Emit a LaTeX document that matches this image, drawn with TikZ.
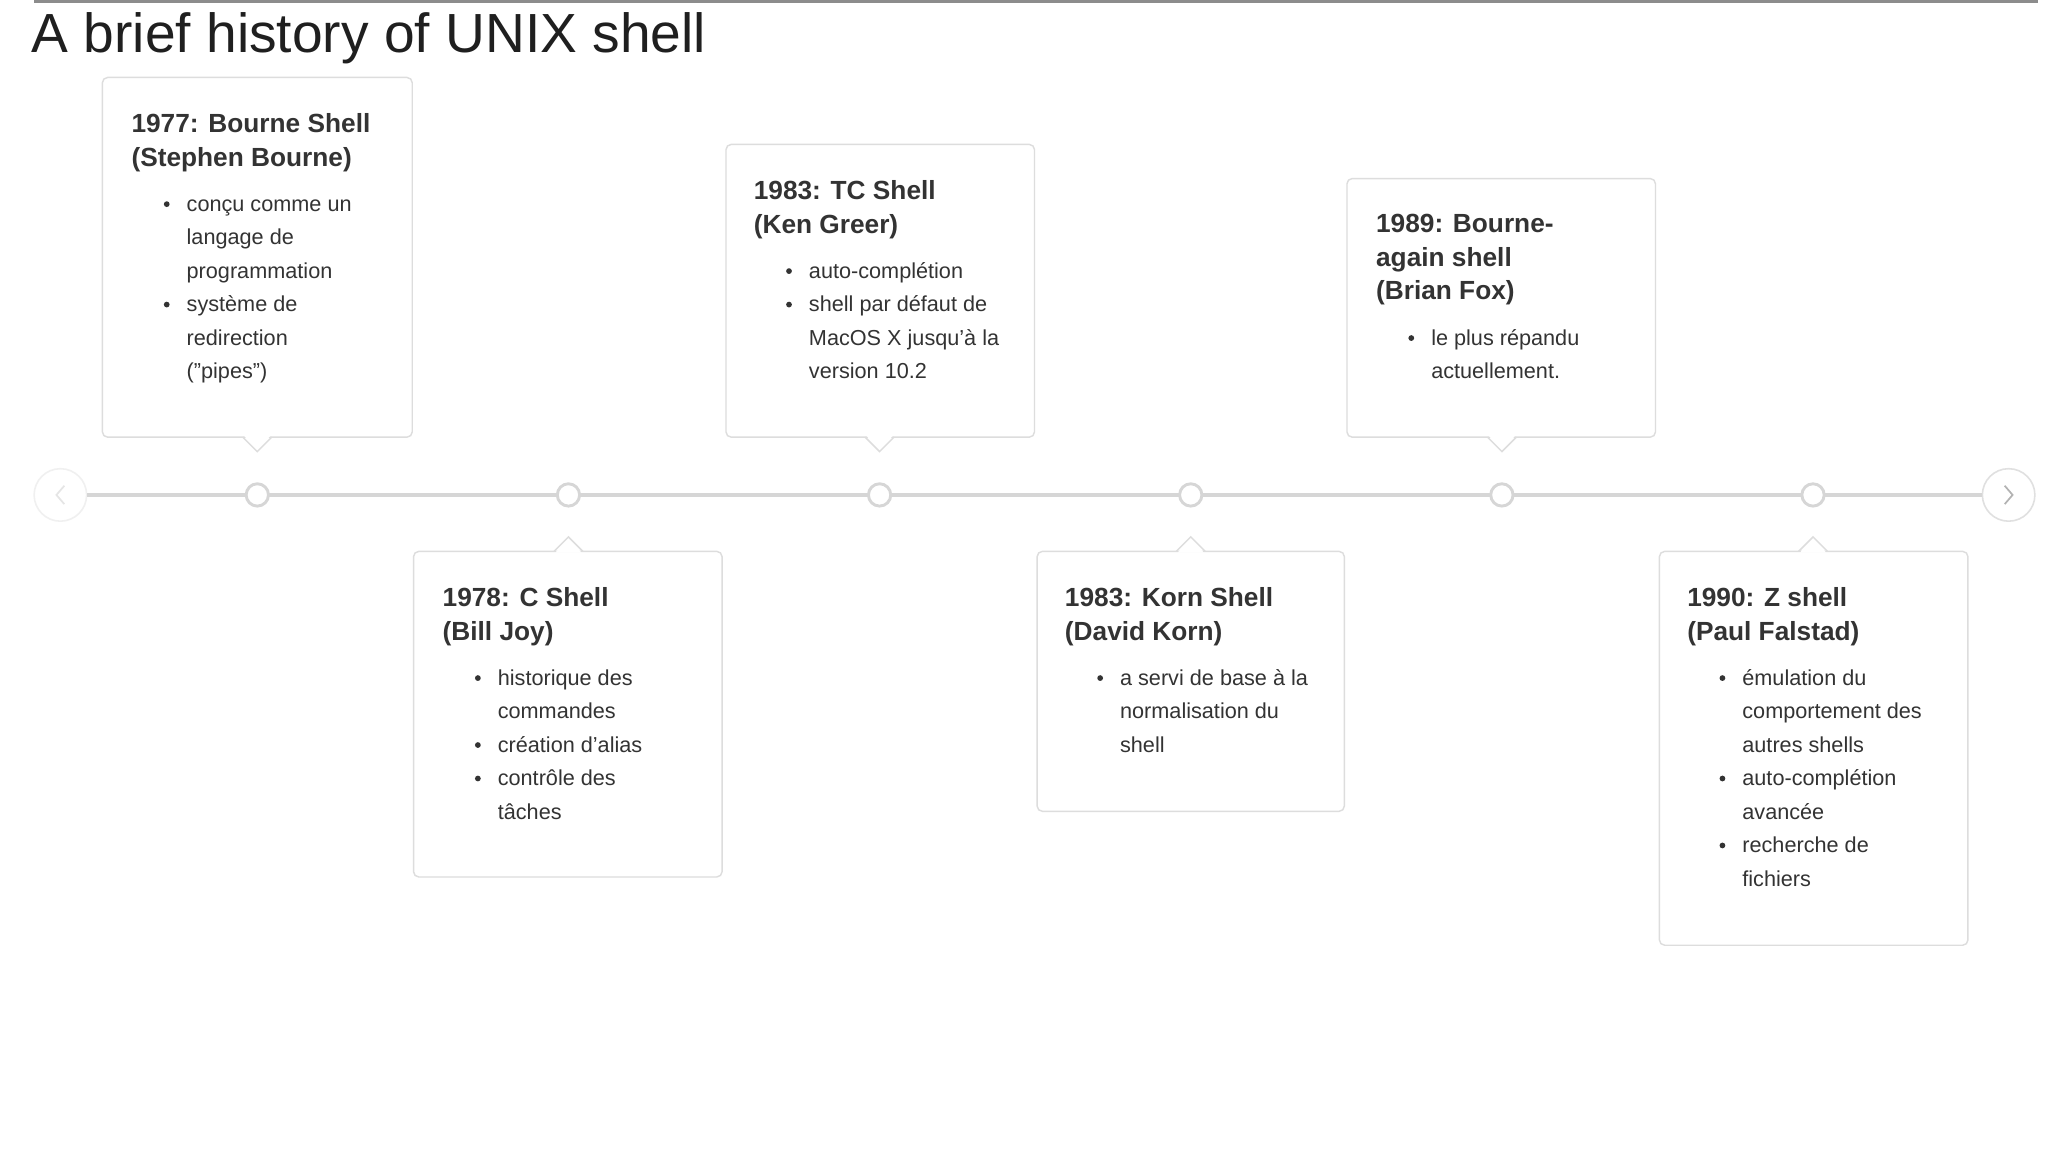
\documentclass[tikz,border=0pt]{standalone}
\usepackage{fontspec}
\setmainfont{Liberation Sans}
\definecolor{bd}{HTML}{DDDDDD}
\definecolor{lnc}{HTML}{D6D6D6}
\definecolor{tx}{HTML}{333333}
\newcommand\hd[3]{\node[anchor=base west,font=\fontsize{20}{24}\selectfont\bfseries,text=tx,inner sep=0] at (#1,#2) {#3};}
\newcommand\tl[3]{\node[anchor=base west,font=\fontsize{16.5}{20}\selectfont,text=tx,inner sep=0] at (#1,#2) {#3};}
\newcommand\bu[2]{\fill[tx] (#1,#2-5.5) circle (2.2);}
\begin{document}
\begin{tikzpicture}[x=1pt,y=-1pt,
  box/.style={draw=bd,line width=1.1pt,fill=white,rounded corners=4},
  dot/.style={circle,draw=lnc,line width=2.2pt,fill=white,minimum size=17,inner sep=0}]
\useasboundingbox (0,0) rectangle (1560,877.5);
\fill[white] (0,0) rectangle (1560,877.5);
\fill[black!45] (26,0) rectangle (1552,2.5);
\node[anchor=base west,font=\fontsize{42}{48}\selectfont,text=black!88,inner sep=0] (title) at (24,40) {A brief history of UNIX shell};
% timeline
\node[circle,draw=black!6,line width=1.2pt,minimum size=40,inner sep=0] (prev) at (46,377) {};
\node[circle,draw=black!12,line width=1.2pt,minimum size=40,inner sep=0] (next) at (1530,377) {};
\draw[black!10,line width=1.3pt] (49,370) -- (43,377) -- (49,384);
\draw[black!30,line width=1.3pt] (1527,370) -- (1533,377) -- (1527,384);
\draw[lnc,line width=3pt] (prev) -- (next);
\foreach \x/\n in {196/d1,433/d2,670/d3,907/d4,1144/d5,1381/d6} \node[dot] (\n) at (\x,377) {};
% top boxes
\draw[box] (78,59) rectangle (314,333);
\draw[box] (553,110) rectangle (788,333);
\draw[box] (1026,136) rectangle (1261,333);
\foreach \c in {196,670,1144}{
 \fill[white] (\c-10,332) -- (\c,343) -- (\c+10,332) -- cycle;
 \draw[bd,line width=1.1pt] (\c-11,333) -- (\c,344) -- (\c+11,333);}
% bottom boxes
\draw[box] (315,420) rectangle (550,668);
\draw[box] (790,420) rectangle (1024,618);
\draw[box] (1264,420) rectangle (1499,720);
\foreach \c in {433,907,1381}{
 \fill[white] (\c-10,421) -- (\c,410) -- (\c+10,421) -- cycle;
 \draw[bd,line width=1.1pt] (\c-11,420) -- (\c,409) -- (\c+11,420);}
% box 1
\hd{100}{101}{1977: Bourne Shell}\hd{100}{127}{(Stephen Bourne)}
\bu{127}{161}\tl{142}{161}{conçu comme un}\tl{142}{186.5}{langage de}\tl{142}{212}{programmation}
\bu{127}{237.5}\tl{142}{237.5}{système de}\tl{142}{263}{redirection}\tl{142}{288.5}{("pipes")}
% box 3
\hd{574}{152}{1983: TC Shell}\hd{574}{178}{(Ken Greer)}
\bu{601}{212}\tl{616}{212}{auto-complétion}
\bu{601}{237.5}\tl{616}{237.5}{shell par défaut de}\tl{616}{263}{MacOS X jusqu'à la}\tl{616}{288.5}{version 10.2}
% box 5
\hd{1048}{177}{1989: Bourne-}\hd{1048}{203}{again shell}\hd{1048}{228.5}{(Brian Fox)}
\bu{1075}{263}\tl{1090}{263}{le plus répandu}\tl{1090}{288.5}{actuellement.}
% box 2
\hd{337}{462}{1978: C Shell}\hd{337}{488}{(Bill Joy)}
\bu{364}{522}\tl{379}{522}{historique des}\tl{379}{547.5}{commandes}
\bu{364}{573}\tl{379}{573}{création d'alias}
\bu{364}{598.5}\tl{379}{598.5}{contrôle des}\tl{379}{624}{tâches}
% box 4
\hd{811}{462}{1983: Korn Shell}\hd{811}{488}{(David Korn)}
\bu{838}{522}\tl{853}{522}{a servi de base à la}\tl{853}{547.5}{normalisation du}\tl{853}{573}{shell}
% box 6
\hd{1285}{462}{1990: Z shell}\hd{1285}{488}{(Paul Falstad)}
\bu{1312}{522}\tl{1327}{522}{émulation du}\tl{1327}{547.5}{comportement des}\tl{1327}{573}{autres shells}
\bu{1312}{598.5}\tl{1327}{598.5}{auto-complétion}\tl{1327}{624}{avancée}
\bu{1312}{649.5}\tl{1327}{649.5}{recherche de}\tl{1327}{675}{fichiers}
\end{tikzpicture}
\end{document}
